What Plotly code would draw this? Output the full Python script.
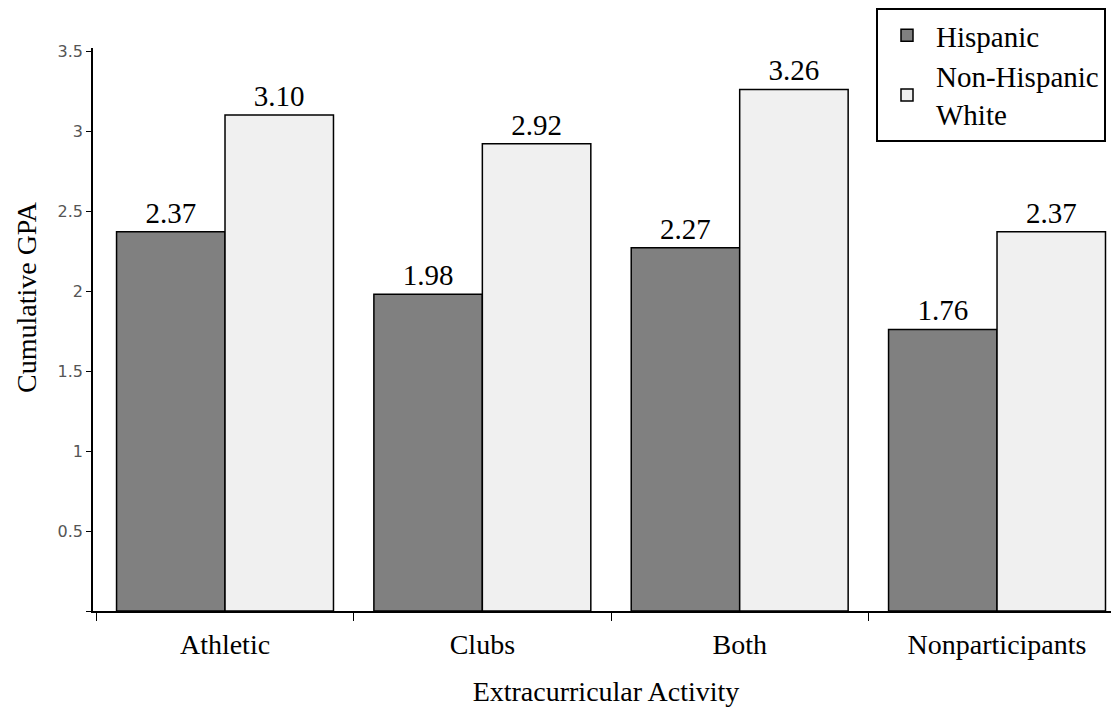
import plotly.graph_objects as go

categories = ["Athletic", "Clubs", "Both", "Nonparticipants"]
hispanic = [2.37, 1.98, 2.27, 1.76]
white = [3.10, 2.92, 3.26, 2.37]
series_names = ["Hispanic", "Non-Hispanic<br>White"]
ytick_vals = [0, 0.5, 1, 1.5, 2, 2.5, 3, 3.5]
ytick_text = ["", "0.5", "1", "1.5", "2", "2.5", "3", "3.5"]

serif = "Liberation Serif, Times New Roman, serif"

fig = go.Figure()
fig.add_trace(go.Bar(
    x=categories, y=hispanic, name=series_names[0],
    marker=dict(color="#808080", line=dict(color="black", width=1.5)),
    text=[f"{v:.2f}" for v in hispanic], textposition="outside",
    textfont=dict(family=serif, size=29, color="black"), cliponaxis=False,
))
fig.add_trace(go.Bar(
    x=categories, y=white, name=series_names[1],
    marker=dict(color="#f0f0f0", line=dict(color="black", width=1.5)),
    text=[f"{v:.2f}" for v in white], textposition="outside",
    textfont=dict(family=serif, size=29, color="black"), cliponaxis=False,
))

fig.update_layout(
    width=1119, height=713,
    paper_bgcolor="white", plot_bgcolor="white",
    margin=dict(l=85, r=8, t=40, b=110, autoexpand=False),
    barmode="group", bargap=0.157, bargroupgap=0,
    showlegend=True,
    legend=dict(
        x=(868 - 85) / 1026, y=603 / 563, xanchor="left", yanchor="top",
        bgcolor="white", bordercolor="black", borderwidth=2,
        font=dict(family=serif, size=29, color="black"),
        tracegroupgap=12, itemwidth=48,
    ),
    xaxis=dict(
        range=[-0.513, 3.474],
        showline=True, linecolor="black", linewidth=1.5,
        ticks="outside", tickson="boundaries", ticklen=8, tickcolor="black",
        ticklabelstandoff=8,
        tickfont=dict(family=serif, size=28, color="black"),
        title=dict(text="Extracurricular Activity", font=dict(family=serif, size=28, color="black"), standoff=22),
        showgrid=False,
    ),
    yaxis=dict(
        range=[0, 3.519], showline=True, linecolor="black", linewidth=1.5,
        ticks="outside", ticklen=5, tickcolor="black",
        tickvals=ytick_vals, ticktext=ytick_text,
        tickfont=dict(family="DejaVu Sans, sans-serif", size=16, color="#555"),
        showgrid=False, zeroline=False,
    ),
    annotations=[dict(
        text="Cumulative GPA", textangle=-90, showarrow=False,
        xref="paper", yref="paper", x=-(85 - 18) / 1026, y=(603 - 289) / 563,
        xanchor="center", yanchor="middle",
        font=dict(family=serif, size=28, color="black"),
    )],
)

fig.write_html("out.html")
